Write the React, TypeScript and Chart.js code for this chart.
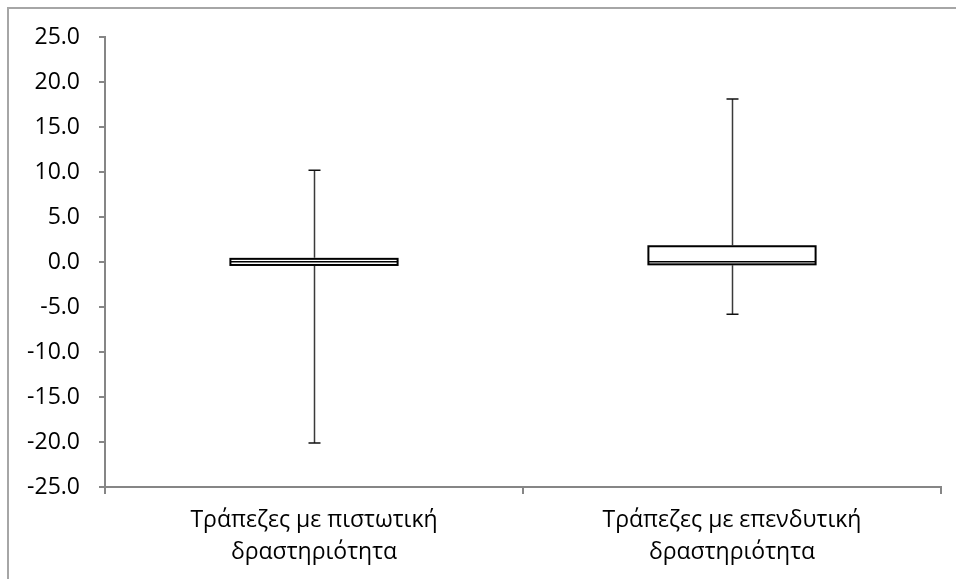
import React, { useEffect, useRef } from "react";
import { Chart, registerables } from "chart.js";

Chart.register(...registerables);

// Box-plot summary per bank group
const categories: string[][] = [
  ["Τράπεζες με πιστωτική", "δραστηριότητα"],
  ["Τράπεζες με επενδυτική", "δραστηριότητα"],
];
const minValues = [-20.1, -5.8];
const q1Values = [-0.33, -0.26];
const medianValues = [0.02, 0.03];
const q3Values = [0.35, 1.75];
const maxValues = [10.2, 18.1];

const yTicks = { min: -25, max: 25, step: 5 };

const FONT = "'Open Sans', 'Noto Sans', sans-serif";
const AXIS_GRAY = "#868686";

// Draws box outlines, whiskers, caps and the median line
const boxDetails = {
  id: "boxDetails",
  afterDatasetsDraw(chart: any) {
    const { ctx } = chart;
    const y = chart.scales.y;
    const meta = chart.getDatasetMeta(0);
    ctx.save();
    meta.data.forEach((bar: any, i: number) => {
      const x = Math.round(bar.x) + 0.5;
      const half = bar.width / 2;
      const yMax = y.getPixelForValue(maxValues[i]);
      const yMin = y.getPixelForValue(minValues[i]);
      const yQ3 = y.getPixelForValue(q3Values[i]);
      const yQ1 = y.getPixelForValue(q1Values[i]);
      const yMed = y.getPixelForValue(medianValues[i]);
      const cap = 6;

      // whiskers
      ctx.strokeStyle = "#3a3a3a";
      ctx.lineWidth = 1.5;
      ctx.beginPath();
      ctx.moveTo(x, yQ3 - 1);
      ctx.lineTo(x, yMax);
      ctx.moveTo(x, yQ1 + 1);
      ctx.lineTo(x, yMin);
      ctx.stroke();

      ctx.strokeStyle = "#111";
      ctx.lineWidth = 1.5;
      ctx.beginPath();
      ctx.moveTo(x - cap, yMax);
      ctx.lineTo(x + cap, yMax);
      ctx.moveTo(x - cap, yMin);
      ctx.lineTo(x + cap, yMin);
      ctx.stroke();

      // box outline
      ctx.strokeStyle = "#000";
      ctx.lineWidth = 2;
      ctx.strokeRect(bar.x - half, yQ3, half * 2, yQ1 - yQ3);

      // median
      ctx.lineWidth = 1.5;
      ctx.beginPath();
      ctx.moveTo(bar.x - half, yMed);
      ctx.lineTo(bar.x + half, yMed);
      ctx.stroke();
    });
    ctx.restore();
  },
};

export default function App() {
  const canvasRef = useRef<HTMLCanvasElement | null>(null);

  useEffect(() => {
    const canvas = canvasRef.current;
    if (!canvas) return;
    const chart = new Chart(canvas, {
      type: "bar",
      data: {
        labels: categories as any,
        datasets: [
          {
            label: "box",
            data: q1Values.map((q1, i) => [q1, q3Values[i]]) as any,
            backgroundColor: "#ffffff",
            borderWidth: 0,
            barPercentage: 0.4,
            categoryPercentage: 1,
          },
        ],
      },
      options: {
        responsive: false,
        animation: false,
        devicePixelRatio: 1,
        layout: { padding: { left: 0, top: 28, right: 15, bottom: 0 } },
        plugins: {
          legend: { display: false },
          tooltip: { enabled: false },
        },
        scales: {
          x: {
            type: "category",
            offset: true,
            grid: {
              offset: true,
              drawOnChartArea: false,
              drawTicks: true,
              tickLength: 7,
              color: AXIS_GRAY,
              lineWidth: 2,
            },
            border: { color: AXIS_GRAY, width: 2 },
            ticks: {
              color: "#000",
              font: { family: FONT, size: 23, lineHeight: 1.38 },
              padding: 11,
              maxRotation: 0,
              autoSkip: false,
            },
            afterFit(scale: any) {
              scale.height = 92;
              scale.paddingLeft = 0;
              scale.paddingRight = 0;
            },
          },
          y: {
            min: yTicks.min,
            max: yTicks.max,
            grid: {
              drawOnChartArea: false,
              drawTicks: true,
              tickLength: 6,
              color: AXIS_GRAY,
              lineWidth: 2,
            },
            border: { color: AXIS_GRAY, width: 2 },
            ticks: {
              stepSize: yTicks.step,
              color: "#000",
              font: { family: FONT, size: 23 },
              padding: 19,
              callback: (v: any) => Number(v).toFixed(1),
            },
            afterFit(scale: any) {
              scale.width = 96;
              scale.paddingTop = 0;
              scale.paddingBottom = 0;
            },
          },
        },
      } as any,
      plugins: [boxDetails],
    });
    return () => chart.destroy();
  }, []);

  return (
    <div
      style={{
        position: "fixed",
        left: 7,
        top: 7,
        width: 949,
        height: 572,
        boxSizing: "border-box",
        borderTop: "2px solid #a6a6a6",
        borderLeft: "2px solid #a6a6a6",
        background: "#fff",
      }}
    >
      <canvas ref={canvasRef} width={947} height={570} style={{ display: "block" }} />
    </div>
  );
}
